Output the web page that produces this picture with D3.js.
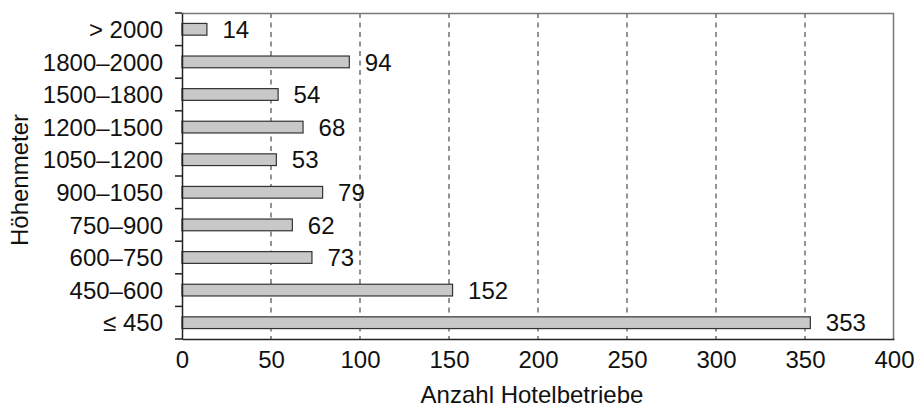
<!DOCTYPE html>
<html><head><meta charset="utf-8">
<script src="https://cdn.jsdelivr.net/npm/d3@7"></script>
<style>body{margin:0;background:#fff;} text{font-family:"Liberation Sans",Arial,sans-serif;fill:#111;}</style>
</head><body><svg id="c" width="917" height="407"></svg>
<script>
const categories = ["> 2000","1800–2000","1500–1800","1200–1500","1050–1200","900–1050","750–900","600–750","450–600","≤ 450"];
const values = [14,94,54,68,53,79,62,73,152,353];
const xTicks = [0,50,100,150,200,250,300,350,400];
const xTitle = "Anzahl Hotelbetriebe";
const yTitle = "Höhenmeter";

const svg = d3.select("#c");
const m = {l:182, r:894, t:13, b:339};
const x = d3.scaleLinear().domain([0,400]).range([m.l,m.r]);
const y = d3.scaleBand().domain(categories).range([m.t,m.b]).paddingInner(0.64).paddingOuter(0.32);
const yb = d3.scaleBand().domain(categories).range([m.t,m.b]);
const fs = 24;

// grid
svg.append("g").selectAll("line").data(xTicks.filter(d=>d>0&&d<400)).join("line")
  .attr("x1",d=>x(d)).attr("x2",d=>x(d)).attr("y1",m.t).attr("y2",m.b)
  .attr("stroke","#666").attr("stroke-width",1.4).attr("stroke-dasharray","5,4.5");

// frame
svg.append("line").attr("x1",m.l).attr("x2",m.r).attr("y1",m.t+0.5).attr("y2",m.t+0.5).attr("stroke","#777").attr("stroke-width",1.5);
svg.append("line").attr("x1",m.r-0.5).attr("x2",m.r-0.5).attr("y1",m.t).attr("y2",m.b).attr("stroke","#777").attr("stroke-width",1.5);

// bars
svg.append("g").selectAll("rect").data(values).join("rect")
  .attr("x",x(0)).attr("y",(d,i)=>y(categories[i]))
  .attr("width",d=>x(d)-x(0)).attr("height",y.bandwidth())
  .attr("fill","#c8c8c8").attr("stroke","#333").attr("stroke-width",1.2);

// value labels
svg.append("g").selectAll("text").data(values).join("text")
  .attr("x",d=>x(d)+15.5).attr("y",(d,i)=>y(categories[i])+y.bandwidth()/2)
  .attr("dy","0.36em").attr("font-size",fs).text(d=>d);

// y axis
const ya = d3.axisLeft(yb).tickSize(0).tickPadding(19);
const gy = svg.append("g").attr("transform",`translate(${m.l},0)`).call(ya);
gy.select(".domain").attr("stroke","#222").attr("stroke-width",1.5);
gy.selectAll("text").attr("font-size",fs).attr("font-family","Liberation Sans, Arial, sans-serif").attr("fill","#111").attr("dy","0.36em");
// boundary ticks
svg.append("g").selectAll("line").data(d3.range(categories.length+1)).join("line")
  .attr("x1",m.l-7).attr("x2",m.l).attr("y1",i=>m.t+i*yb.step()).attr("y2",i=>m.t+i*yb.step())
  .attr("stroke","#222").attr("stroke-width",1.5);

// x axis
const xa = d3.axisBottom(x).tickValues(xTicks).tickSize(0).tickPadding(12);
const gx = svg.append("g").attr("transform",`translate(0,${m.b})`).call(xa);
gx.select(".domain").attr("stroke","#222").attr("stroke-width",1.5);
gx.selectAll("text").attr("font-size",fs).attr("font-family","Liberation Sans, Arial, sans-serif").attr("fill","#111");

svg.append("text").attr("x",532).attr("y",403).attr("text-anchor","middle").attr("font-size",fs).text(xTitle);
svg.append("text").attr("transform","translate(28,180) rotate(-90)").attr("text-anchor","middle").attr("font-size",fs).text(yTitle);
</script></body></html>
